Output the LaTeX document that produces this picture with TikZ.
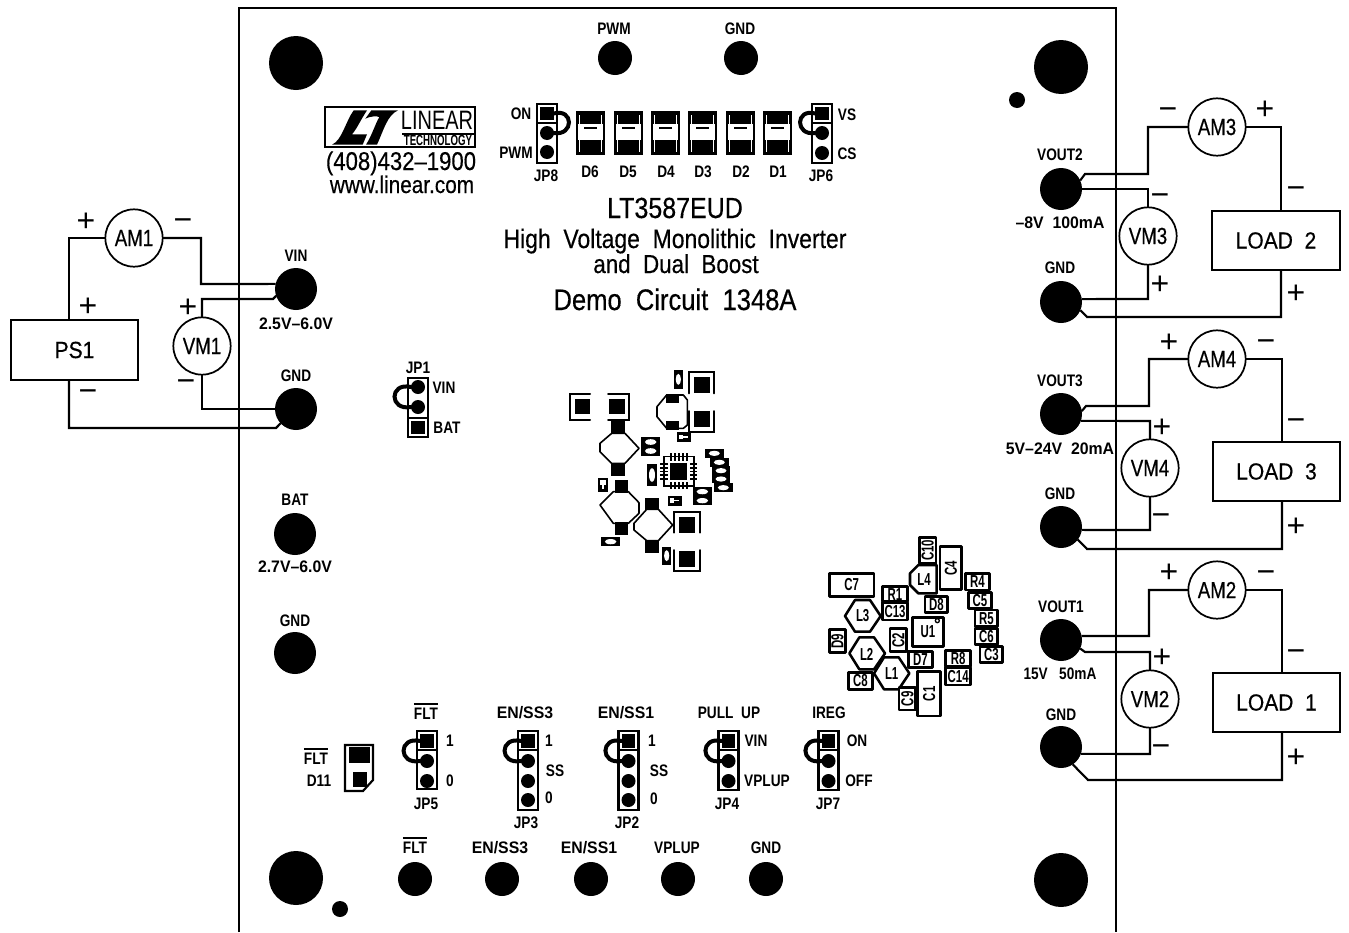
\documentclass[tikz,border=0pt]{standalone}
\usepackage{fontspec}
\setmainfont{Liberation Sans}
\newfontfamily\nb[FakeStretch=0.82]{Liberation Sans}
\newfontfamily\nw[FakeStretch=0.95]{Liberation Sans}
\newfontfamily\nc[FakeStretch=0.66]{Liberation Sans}
\newfontfamily\nr[FakeStretch=0.80,FakeBold=0.5]{Liberation Sans}
\newfontfamily\nl[FakeStretch=0.90,FakeBold=0.5]{Liberation Sans}
\newfontfamily\nt[FakeStretch=0.86,FakeBold=0.4]{Liberation Sans}
\newfontfamily\nlogo[FakeStretch=0.75]{Liberation Sans}
\newcommand\ovl[1]{\vbox{\hrule height 1.5pt\kern 1.8pt\hbox{#1}}}
\newcounter{labn}
% small label: x, y of the caps' centre, text
\newcommand\lab[3]{\stepcounter{labn}\node[smlab] (lab\thelabn) at (#1,#2) {#3};}
\newcommand\labw[3]{\stepcounter{labn}\node[smlab,font=\nw\bfseries\fontsize{12.5}{14}\selectfont] (lab\thelabn) at (#1,#2) {#3};}
\newcommand\sgn[3]{\stepcounter{labn}\node[signlab] (lab\thelabn) at (#1,#2) {#3};}
\newcommand\jmp[5]{% name, x, ytop, ybot, ysep
  \node[jbox,minimum height={(#4-#3)*0.75pt}] (#1) at (#2,{(#3+#4)/2}) {};
  \draw[jline] (#1.west |- #2,#5) -- (#1.east |- #2,#5);
}
\newcommand\smd[4]{\fill ({#1-#3/2},{#2-#4/2}) rectangle ({#1+#3/2},{#2+#4/2});
  \fill[white] (#1,#2) ellipse [x radius={#3*0.3}, y radius={#4*0.3}];}
\tikzset{
  wire/.style={line width=1.6pt,line join=miter},
  jline/.style={line width=1.5pt},
  jbox/.style={draw,line width=1.7pt,minimum width=15pt,inner sep=0pt,outer sep=0pt},
  pinc/.style={circle,fill=black,minimum size=10.5pt,inner sep=0pt,outer sep=0pt},
  sqp/.style={rectangle,fill=black,minimum size=10pt,inner sep=0pt,outer sep=0pt},
  jloopl/.style={line width=3pt,line cap=round},
  mount/.style={circle,fill=black,minimum size=40.5pt,inner sep=0pt,outer sep=0pt},
  term/.style={circle,fill=black,minimum size=31.5pt,inner sep=0pt,outer sep=0pt},
  tp/.style={circle,fill=black,minimum size=25.5pt,inner sep=0pt,outer sep=0pt},
  dotc/.style={circle,fill=black,minimum size=12pt,inner sep=0pt,outer sep=0pt},
  meter/.style={circle,draw,fill=white,line width=1.3pt,minimum size=43pt,inner sep=0pt,outer sep=0pt,font=\nr\fontsize{17.5}{20}\selectfont},
  loadbox/.style={draw,fill=white,line width=1.7pt,minimum width=95.5pt,minimum height=44.5pt,inner sep=0pt,outer sep=0pt,font=\nl\fontsize{17.5}{20}\selectfont},
  smlab/.style={font=\nb\bfseries\fontsize{12.5}{14}\selectfont,anchor=base,yshift=-4pt,inner sep=0pt,outer sep=0pt},
  signlab/.style={font=\fontsize{24}{26}\selectfont,anchor=base,yshift=-8pt,inner sep=0pt,outer sep=0pt},
  titlelab/.style={font=\nt\fontsize{#1}{#1}\selectfont,anchor=base,inner sep=0pt,outer sep=0pt},
  comp/.style={draw,line width=1.9pt,fill=white,line join=round},
  comptxt/.style={font=\nc\bfseries\fontsize{13}{15}\selectfont,inner sep=0pt,outer sep=0pt},
  ind/.style={draw,line width=1.2pt,fill=white,line join=round},
  bracket/.style={line width=1.5pt,line cap=round},
}
\begin{document}
\begin{tikzpicture}[x=0.75pt,y=-0.75pt]
\useasboundingbox (0,0) rectangle (1349,932);
\fill[white] (0,0) rectangle (1349,932);
% board outline
\draw[wire] (239,932) -- (239,8) -- (1116,8) -- (1116,932);
% mounting holes and dots
\node[mount] (mh1) at (296,63) {};
\node[mount] (mh2) at (1061,67) {};
\node[mount] (mh3) at (296,878) {};
\node[mount] (mh4) at (1061,880) {};
\node[dotc] (dot1) at (1017,100) {};
\node[dotc] (dot2) at (340,909) {};
% test points
\node[tp] (tpwm) at (615,58) {}; \lab{614}{29}{PWM}
\node[tp] (tgnda) at (741,58) {}; \lab{740}{29}{GND}
\node[tp] (tflt) at (415,879) {}; \lab{415}{848}{\ovl{FLT}}
\node[tp] (tss3) at (502,879) {}; \labw{500}{848}{EN/SS3}
\node[tp] (tss1) at (591,879) {}; \labw{589}{848}{EN/SS1}
\node[tp] (tvpl) at (678,879) {}; \lab{677}{848}{VPLUP}
\node[tp] (tgndb) at (766,879) {}; \lab{766}{848}{GND}
% terminals
\node[term] (vin) at (296,289) {}; \lab{296}{256}{VIN} \labw{296}{324}{2.5V–6.0V}
\node[term] (gnd1) at (296,409) {}; \lab{296}{376}{GND}
\node[term] (bat) at (295,534) {}; \lab{295}{500}{BAT} \labw{295}{567}{2.7V–6.0V}
\node[term] (gnd5) at (295,653) {}; \lab{295}{621}{GND}
\node[term] (vout2) at (1061,189) {}; \lab{1060}{155}{VOUT2} \labw{1060}{223}{–8V\ \ 100mA}
\node[term] (gnd2) at (1061,302) {}; \lab{1060}{268}{GND}
\node[term] (vout3) at (1061,414) {}; \lab{1060}{381}{VOUT3} \labw{1060}{449}{5V–24V\ \ 20mA}
\node[term] (gnd3) at (1061,527) {}; \lab{1060}{494}{GND}
\node[term] (vout1) at (1061,640) {}; \lab{1061}{607}{VOUT1} \lab{1060}{674}{15V\ \ \ 50mA}
\node[term] (gnd4) at (1061,747) {}; \lab{1061}{715}{GND}
% meters and loads
\node[meter] (am1) at (134,238) {AM1};
\node[meter] (vm1) at (202,346) {VM1};
\node[loadbox] (ps1) at (74.5,350) {PS1};
\node[meter] (am3) at (1217,127) {AM3};
\node[meter] (vm3) at (1148,236) {VM3};
\node[loadbox] (load2) at (1276,240.5) {LOAD\ \ 2};
\node[meter] (am4) at (1217,359) {AM4};
\node[meter] (vm4) at (1150,468) {VM4};
\node[loadbox] (load3) at (1276.5,471.5) {LOAD\ \ 3};
\node[meter] (am2) at (1217,590) {AM2};
\node[meter] (vm2) at (1150,699) {VM2};
\node[loadbox] (load1) at (1276.5,702.5) {LOAD\ \ 1};
% wires, left
\draw[wire] (am1.west) -- (69,238) -- (ps1.north -| 69,238);
\draw[wire] (am1.east) -- (201,238) -- (201,284) -- (vin.166);
\draw[wire] (vm1.north) -- (202,299) -- (273,299) -- (vin.199);
\draw[wire] (vm1.south) -- (202,409) -- (gnd1.west);
\draw[wire] (ps1.south -| 69,428) -- (69,428) -- (276,428) -- (gnd1.223);
% wires, load 2
\draw[wire] (vout2.24) -- (1085,174) -- (1148,174) -- (1148,127) -- (am3.west);
\draw[wire] (am3.east) -- (1281,127) -- (load2.north -| 1281,127);
\draw[wire] (vout2.east) -- (1148,189) -- (vm3.north);
\draw[wire] (vm3.south) -- (1148,299) -- (gnd2.8);
\draw[wire] (gnd2.-23) -- (1087,317) -- (1281,317) -- (load2.south -| 1281,317);
% wires, load 3
\draw[wire] (vout3.8) -- (1086,406) -- (1149,406) -- (1149,359) -- (am4.west);
\draw[wire] (am4.east) -- (1282,359) -- (load3.north -| 1282,359);
\draw[wire] (vout3.-19) -- (1150,421) -- (vm4.north);
\draw[wire] (vm4.south) -- (1150,530) -- (gnd3.-8);
\draw[wire] (gnd3.-37) -- (1087,549) -- (1282,549) -- (load3.south -| 1282,549);
% wires, load 1
\draw[wire] (vout1.11) -- (1149,636) -- (1149,590) -- (am2.west);
\draw[wire] (am2.east) -- (1282,590) -- (load1.north -| 1282,590);
\draw[wire] (vout1.-24) -- (1085,652) -- (1150,652) -- (vm2.north);
\draw[wire] (vm2.south) -- (1150,754) -- (gnd4.-19);
\draw[wire] (gnd4.-56) -- (1088,780) -- (1282,780) -- (load1.south -| 1282,780);
% signs
\sgn{86}{221}{+} \sgn{183}{220}{−} \sgn{88}{306}{+} \sgn{88}{391}{−} \sgn{188}{307}{+} \sgn{186}{381}{−}
\sgn{1168}{109}{−} \sgn{1265}{109}{+} \sgn{1160}{195}{−} \sgn{1160}{284}{+} \sgn{1296}{188}{−} \sgn{1296}{293}{+}
\sgn{1169}{342}{+} \sgn{1266}{341}{−} \sgn{1162}{427}{+} \sgn{1161}{515}{−} \sgn{1296}{420}{−} \sgn{1296}{526}{+}
\sgn{1169}{572}{+} \sgn{1266}{572}{−} \sgn{1162}{657}{+} \sgn{1161}{746}{−} \sgn{1296}{651}{−} \sgn{1296}{757}{+}
% titles
\node[titlelab=21.8] (ttl1) at (675,218) {LT3587EUD};
\node[titlelab=20] (ttl2) at (675,248) {High\ \ Voltage\ \ Monolithic\ \ Inverter};
\node[titlelab=19.5] (ttl3) at (676,273) {and\ \ Dual\ \ Boost};
\node[titlelab=22.3] (ttl4) at (675,310) {Demo\ \ Circuit\ \ 1348A};
% logo
\begin{scope}[shift={(322,102)},x=0.25pt,y=-0.25pt]
 \draw[line width=1.6pt] (10,15) rectangle (460,135);
 \fill (30,128) .. controls (60,115) and (70,60) .. (95,25) -- (135,25) .. controls (115,55) and (105,80) .. (90,97) -- (135,97) -- (122,128) -- cycle;
 \fill (148,25) -- (228,25) .. controls (195,40) and (185,85) .. (165,128) -- (132,128) .. controls (150,100) and (160,65) .. (172,45) .. controls (165,42) and (145,42) .. (130,50) -- cycle;
 \draw[line width=1.3pt] (240,97) -- (455,97);
 \node[font=\nlogo\fontsize{20}{22}\selectfont,inner sep=0pt] (logo1) at (345,55) {LINEAR};
 \node[font=\nc\bfseries\fontsize{11}{12}\selectfont,inner sep=0pt] (logo2) at (348,116) {TECHNOLOGY};
\end{scope}
\node[titlelab=19.3] (logo3) at (401,170) {(408)432–1900};
\node[titlelab=18.1] (logo4) at (402,193) {www.linear.com};
% diodes
\foreach \nm/\x/\lx in {D6/577/590,D5/615/628,D4/652/666,D3/689/703,D2/727/741,D1/764/778}{
  \draw[line width=1.8pt] (\x,112) rectangle ({\x+27},154);
  \fill (\x,112) rectangle ({\x+27},124);
  \fill (\x,140) rectangle ({\x+27},154);
  \draw[white,line width=0.5pt] ({\x+2.5},115) -- ({\x+2.5},152);
  \draw[white,line width=0.5pt] ({\x+24.5},115) -- ({\x+24.5},152);
  \draw[line width=2pt] ({\x+7},128) -- ({\x+20},128);
  \node[smlab] (\nm) at (\lx,172) {\nm};
}
% jumper JP8
\jmp{jp8}{547}{104}{163}{123}
\node[sqp] (jp8s) at (547,113.5) {}; \node[pinc] (jp8a) at (547,133) {}; \node[pinc] (jp8b) at (547,152) {};
\draw[jloopl] (jp8s.east) .. controls (574,108) and (574,136) .. (jp8a.east);
\lab{521}{114}{ON} \lab{516}{153}{PWM} \lab{546}{176}{JP8}
% JP6
\jmp{jp6}{822}{104}{163}{123}
\node[sqp] (jp6s) at (822,113.5) {}; \node[pinc] (jp6a) at (822,133) {}; \node[pinc] (jp6b) at (822,153) {};
\draw[jloopl] (jp6s.west) .. controls (795,108) and (795,136) .. (jp6a.west);
\lab{847}{115}{VS} \lab{847}{154}{CS} \lab{821}{176}{JP6}
% JP1
\jmp{jp1}{418}{378}{437}{418}
\node[pinc] (jp1a) at (418,387) {}; \node[pinc] (jp1b) at (418,407) {}; \node[sqp] (jp1s) at (418,427.5) {};
\draw[jloopl] (jp1a.west) .. controls (389,382) and (389,411) .. (jp1b.west);
\lab{418}{368}{JP1} \lab{444}{388}{VIN} \lab{447}{428}{BAT}
% JP5
\jmp{jp5}{427}{731}{789}{750}
\node[sqp] (jp5s) at (427,741) {}; \node[pinc] (jp5a) at (427,761) {}; \node[pinc] (jp5b) at (427,781) {};
\draw[jloopl] (jp5s.west) .. controls (398,736) and (398,765) .. (jp5a.west);
\lab{426}{714}{\ovl{FLT}} \lab{450}{741}{1} \lab{450}{781}{0} \lab{426}{804}{JP5}
% JP3
\jmp{jp3}{528}{731}{810}{750}
\node[sqp] (jp3s) at (528,741) {}; \node[pinc] (jp3a) at (528,761) {}; \node[pinc] (jp3b) at (528,781) {}; \node[pinc] (jp3c) at (528,800) {};
\draw[jloopl] (jp3s.west) .. controls (499,736) and (499,765) .. (jp3a.west);
\labw{525}{713}{EN/SS3} \lab{549}{741}{1} \lab{555}{771}{SS} \lab{549}{798}{0} \lab{526}{823}{JP3}
% JP2
\jmp{jp2}{628.5}{731}{810}{750}
\node[sqp] (jp2s) at (628.5,741) {}; \node[pinc] (jp2a) at (628.5,761) {}; \node[pinc] (jp2b) at (628.5,781) {}; \node[pinc] (jp2c) at (628.5,800) {};
\draw[jloopl] (jp2s.west) .. controls (600,736) and (600,765) .. (jp2a.west);
\labw{626}{713}{EN/SS1} \lab{652}{741}{1} \lab{659}{771}{SS} \lab{654}{799}{0} \lab{627}{823}{JP2}
% JP4
\jmp{jp4}{728.5}{731}{790}{750}
\node[sqp] (jp4s) at (728.5,741) {}; \node[pinc] (jp4a) at (728.5,761) {}; \node[pinc] (jp4b) at (728.5,781) {};
\draw[jloopl] (jp4s.west) .. controls (700,736) and (700,765) .. (jp4a.west);
\lab{729}{713}{PULL\ \ UP} \lab{756}{741}{VIN} \lab{767}{781}{VPLUP} \lab{727}{804}{JP4}
% JP7
\jmp{jp7}{828.5}{731}{790}{750}
\node[sqp] (jp7s) at (828.5,741) {}; \node[pinc] (jp7a) at (828.5,761) {}; \node[pinc] (jp7b) at (828.5,781) {};
\draw[jloopl] (jp7s.west) .. controls (800,736) and (800,765) .. (jp7a.west);
\lab{829}{713}{IREG} \lab{857}{741}{ON} \lab{859}{781}{OFF} \lab{828}{804}{JP7}
% D11
\draw[line width=1.6pt] (345,745) -- (373,745) -- (373,780) -- (363,791) -- (345,791) -- cycle;
\fill (349,747) rectangle (370,763);
\fill (353,772) rectangle (367,787);
\lab{316}{759}{\ovl{FLT}} \lab{319}{781}{D11}
% central SMD cluster
\begin{scope}[shift={(530,350)},x=0.25pt,y=-0.25pt]
 % brackets
 \draw[bracket] (478,130) -- (478,67) -- (553,67) -- (553,130);
 \fill (492,82) rectangle (540,130);
 \draw[bracket] (478,183) -- (478,245) -- (553,245) -- (553,183);
 \fill (492,183) rectangle (540,230);
 \draw[bracket] (180,133) -- (120,133) -- (120,210) -- (180,210);
 \fill (135,147) rectangle (181,193);
 \draw[bracket] (234,133) -- (298,133) -- (298,210) -- (234,210);
 \fill (236,147) rectangle (284,193);
 \draw[bracket] (432,548) -- (432,485) -- (510,485) -- (510,548);
 \fill (447,500) rectangle (495,548);
 \draw[bracket] (432,600) -- (432,663) -- (510,663) -- (510,600);
 \fill (447,604) rectangle (495,650);
 % inductor outlines
 \draw[ind] (210,280) -- (245,250) -- (285,250) -- (327,295) -- (285,340) -- (245,340) -- (210,305) -- cycle;
 \fill (244,213) rectangle (284,252); \fill (244,341) rectangle (284,379);
 \draw[ind] (210,465) -- (250,425) -- (295,425) -- (327,458) -- (327,490) -- (295,520) -- (250,520) -- cycle;
 \fill (254,390) rectangle (294,428); \fill (254,517) rectangle (294,554);
 \draw[ind] (312,520) -- (350,478) -- (385,478) -- (428,525) -- (385,572) -- (350,572) -- (312,540) -- cycle;
 \fill (346,443) rectangle (386,480); \fill (346,571) rectangle (386,608);
 \draw[ind] (410,135) -- (460,135) -- (472,150) -- (472,225) -- (460,235) -- (410,235) -- (381,200) -- (381,170) -- cycle;
 \fill (408,131) rectangle (447,160); \fill (408,213) rectangle (447,241);
 % QFN
 \draw[line width=1pt] (402,320) rectangle (492,408);
 \fill (420,338) rectangle (472,390);
 \foreach \d in {0,1,2,3,4}{
   \fill ({419+\d*12},310) rectangle ({425+\d*12},332);
   \fill ({419+\d*12},396) rectangle ({425+\d*12},418);
   \fill (391,{340+\d*11}) rectangle (413,{345+\d*11});
   \fill (479,{340+\d*11}) rectangle (501,{345+\d*11});
 }
 % small parts
 \smd{362}{276}{58}{28} \smd{362}{303}{58}{28}
 \smd{553}{310}{55}{26} \smd{568}{337}{55}{26} \smd{573}{362}{55}{26} \smd{573}{387}{55}{26} \smd{580}{413}{55}{26}
 \smd{517}{425}{58}{26} \smd{517}{452}{58}{26}
 \smd{242}{575}{58}{26}
 \smd{445}{88}{26}{55} \smd{366}{375}{30}{68} \smd{410}{617}{26}{55}
 \fill (441,246) rectangle (482,277); \fill[white] (447,255) rectangle (460,268); \fill[white] (460,259) rectangle (475,263);
 \fill (413,437) rectangle (455,467); \fill[white] (420,445) rectangle (433,459); \fill[white] (433,450) rectangle (448,454);
 \fill (204,384) rectangle (234,425); \fill[white] (211,390) rectangle (227,405); \fill[white] (217,405) rectangle (221,418);
\end{scope}
% lower right part placement
\begin{scope}[shift={(810,530)},x=0.25pt,y=-0.25pt]
 \draw[comp] (58,130) rectangle (192,200) node[midway,comptxt] (c7) {C7};
 \draw[comp] (218,170) rectangle (292,215) node[midway,comptxt] (r1) {R1};
 \draw[comp] (218,217) rectangle (292,270) node[midway,comptxt] (c13) {C13};
 \draw[comp] (328,22) rectangle (378,100) node[midway,comptxt,rotate=90] (c10) {C10};
 \draw[comp] (390,50) rectangle (455,178) node[midway,comptxt,rotate=90] (c4) {C4};
 \draw[comp] (325,105) -- (380,105) -- (380,190) -- (325,190) -- (300,165) -- (300,130) -- cycle;
 \node[comptxt] (l4) at (342,148) {L4};
 \draw[comp] (467,130) rectangle (538,180) node[midway,comptxt] (r4) {R4};
 \draw[comp] (475,187) rectangle (545,235) node[midway,comptxt] (c5) {C5};
 \draw[comp] (495,240) rectangle (563,290) node[midway,comptxt] (r5) {R5};
 \draw[comp] (495,295) rectangle (563,343) node[midway,comptxt] (c6) {C6};
 \draw[comp] (510,350) rectangle (578,398) node[midway,comptxt] (c3) {C3};
 \draw[comp] (345,200) rectangle (413,248) node[midway,comptxt] (d8) {D8};
 \draw[comp] (308,262) rectangle (400,350) node[midway,comptxt] (u1) {U1};
 \draw[line width=1pt] (382,272) circle [radius=6];
 \draw[comp] (240,295) rectangle (290,365) node[midway,comptxt,rotate=90] (c2) {C2};
 \draw[comp] (135,210) -- (180,210) -- (212,258) -- (180,305) -- (135,305) -- (105,258) -- cycle;
 \node[comptxt] (l3) at (158,258) {L3};
 \draw[comp] (58,298) rectangle (106,368) node[midway,comptxt,rotate=90] (d9) {D9};
 \draw[comp] (148,322) -- (192,322) -- (225,370) -- (192,418) -- (148,418) -- (118,370) -- cycle;
 \node[comptxt] (l2) at (170,372) {L2};
 \draw[comp] (222,382) -- (266,382) -- (298,430) -- (266,478) -- (222,478) -- (192,430) -- cycle;
 \node[comptxt] (l1) at (245,430) {L1};
 \draw[comp] (115,428) rectangle (187,478) node[midway,comptxt] (c8) {C8};
 \draw[comp] (296,365) rectangle (367,413) node[midway,comptxt] (d7) {D7};
 \draw[comp] (407,362) rectangle (482,410) node[midway,comptxt] (r8) {R8};
 \draw[comp] (407,412) rectangle (482,465) node[midway,comptxt] (c14) {C14};
 \draw[comp] (267,473) rectangle (317,540) node[midway,comptxt,rotate=90] (c9) {C9};
 \draw[comp] (323,425) rectangle (392,558) node[midway,comptxt,rotate=90] (c1) {C1};
\end{scope}
\end{tikzpicture}
\end{document}
